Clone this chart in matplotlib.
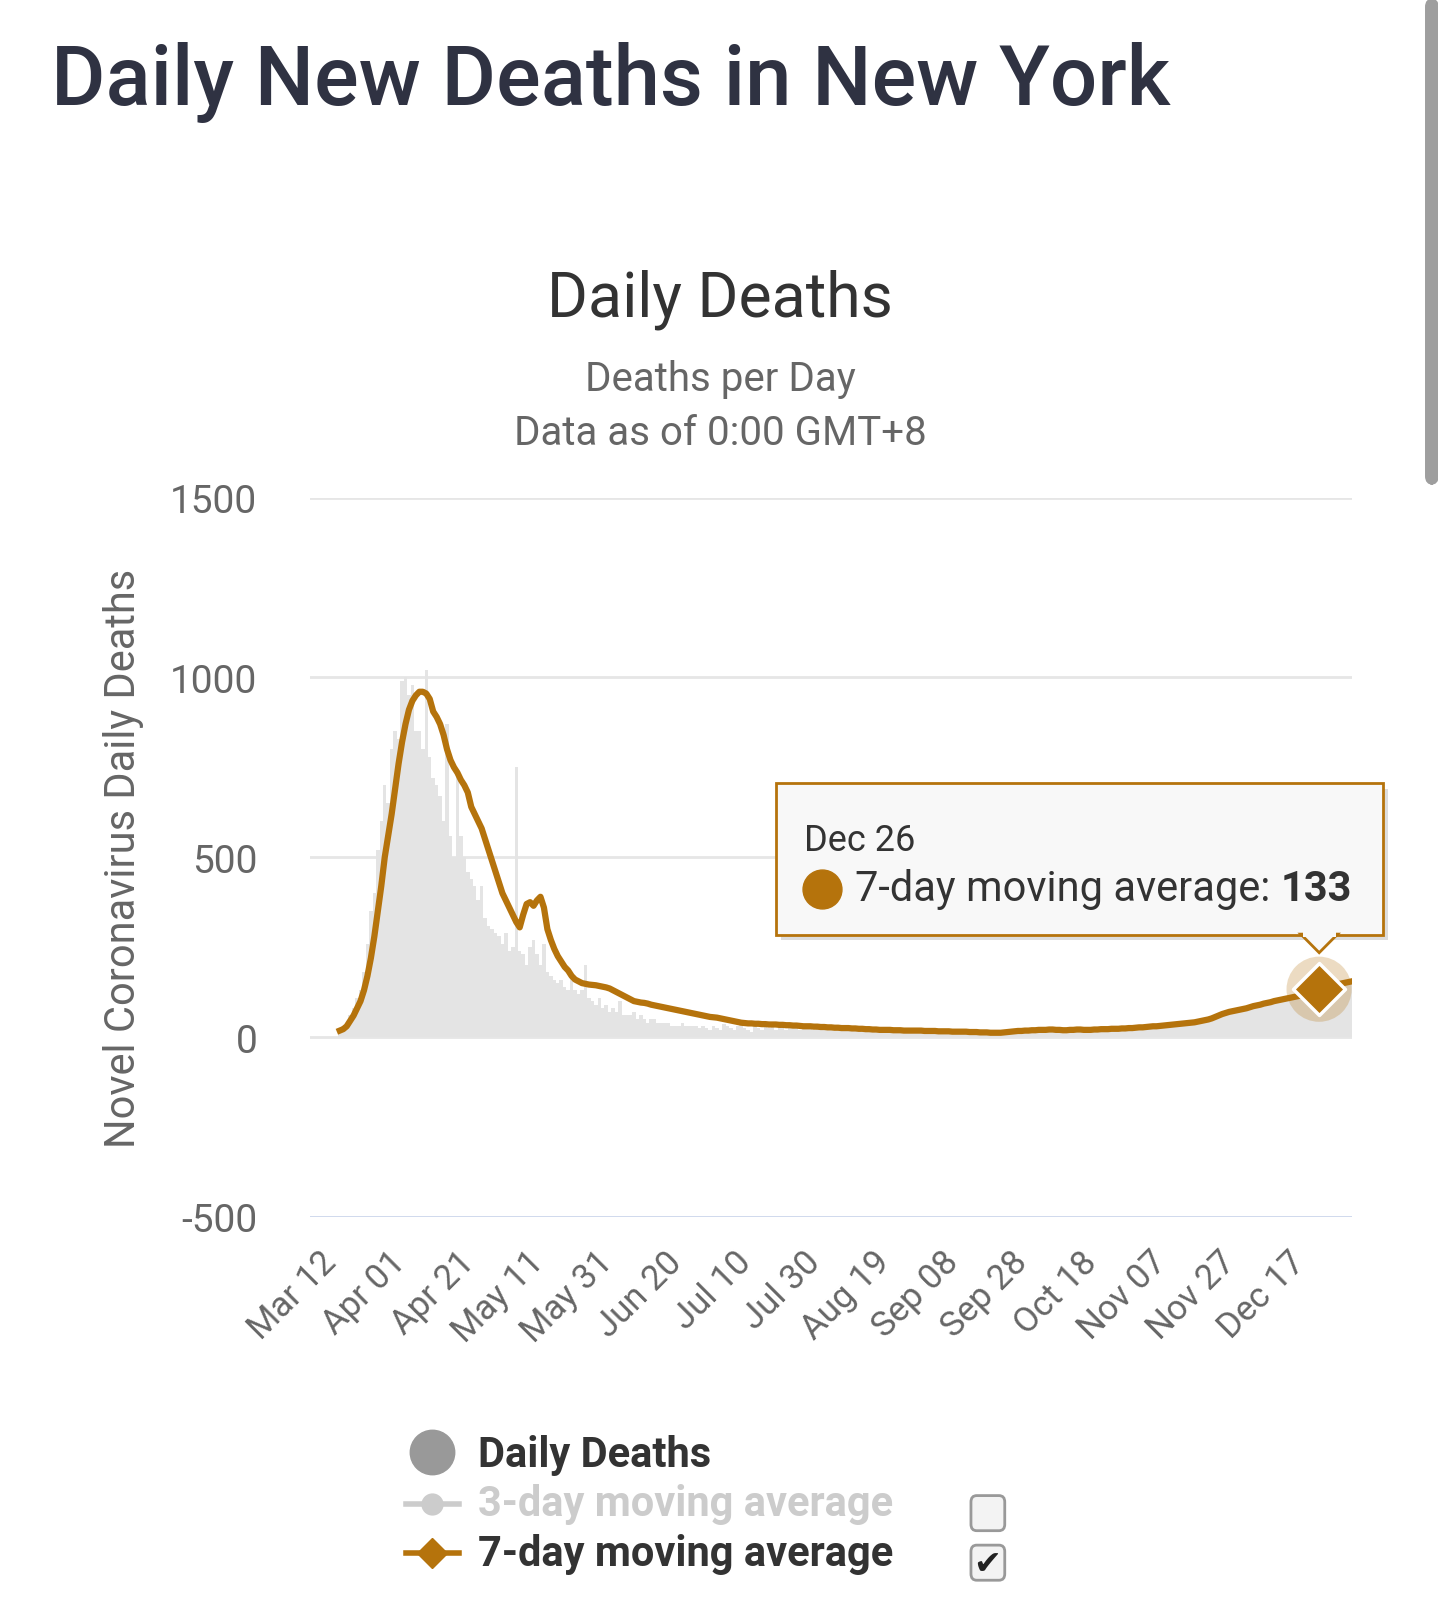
import matplotlib
matplotlib.use("Agg")
import matplotlib.pyplot as plt
import numpy as np
import datetime as dt
from matplotlib.patches import FancyBboxPatch, Rectangle, Polygon
from matplotlib.lines import Line2D

plt.rcParams['font.family'] = ['Roboto', 'DejaVu Sans']

start = dt.date(2020, 3, 10)
avg7 = [0,0,0,0,0,0,0,0,18,22,30,45,60,80,100,130,170,220,280,350,420,500,
 560,620,690,760,820,870,910,935,950,960,960,955,940,905,890,870,840,800,770,750,735,715,700,680,640,620,600,580,550,520,
 490,460,430,400,380,360,340,320,305,340,370,375,365,380,390,360,300,270,245,225,210,195,185,170,160,155,150,148,146,145,144,
 142,140,138,135,130,125,120,115,110,105,100,98,96,95,93,90,88,86,84,82,80,78,76,74,72,70,68,66,64,62,
 60,58,56,55,54,52,50,48,46,44,42,40,39,38,38,37,37,36,36,35,35,35,34,34,33,33,32,32,31,30,30,
 30,29,29,28,28,27,27,26,26,25,25,25,24,24,23,23,22,22,21,21,20,20,20,20,19,19,19,18,18,18,18,
 18,18,17,17,17,17,16,16,16,16,15,15,15,15,15,14,14,14,13,13,13,12,12,12,12,13,14,15,16,17,
 17,18,18,19,19,20,20,20,21,21,20,20,19,19,20,20,21,21,20,20,20,21,21,22,22,22,23,23,23,24,24,
 25,25,26,27,27,28,29,30,30,31,32,33,34,35,36,37,38,39,40,41,43,45,47,49,52,56,60,64,67,70,
 72,74,76,78,80,83,86,88,90,93,95,97,100,102,104,106,108,110,112,114,116,118,121,125,129,133,136,139,142,144,146,
 148,150,152,154]
daily = [0,0,0,0,0,0,0,0,20,30,40,60,80,110,130,180,260,350,400,520,600,700,
 650,800,850,830,990,1000,950,980,850,850,800,1020,780,720,700,670,600,870,560,500,740,560,500,460,440,420,380,420,330,310,
 300,290,280,260,290,240,250,750,240,230,200,250,270,230,200,260,180,170,160,150,160,140,130,170,130,120,130,200,110,100,90,
 110,80,90,70,80,70,100,60,60,60,70,50,60,50,40,50,50,40,40,40,40,30,30,30,40,30,30,30,30,25,
 30,25,20,30,25,20,35,30,25,20,30,35,25,20,15,30,25,20,30,25,35,20,30,25,20,35,30,25,20,30,25,
 25,20,30,25,20,25,30,20,25,20,25,30,20,25,20,15,25,20,25,20,15,20,25,20,15,20,25,15,20,15,20,
 15,20,15,20,15,10,20,15,20,15,10,15,20,15,10,15,20,10,15,10,15,10,15,10,15,20,15,20,15,20,
 15,20,25,15,20,25,20,15,25,20,15,25,20,15,25,20,15,25,20,20,25,20,15,25,30,20,25,20,25,30,20,
 25,30,20,30,25,30,35,25,30,35,30,35,40,30,35,40,45,35,40,45,40,50,45,55,50,60,55,65,60,75,
 70,80,75,80,85,80,90,85,95,90,100,95,105,100,110,100,115,110,120,115,125,115,130,125,140,130,140,135,150,140,155,
 145,150,155,160]
n = len(avg7)
dates = [start + dt.timedelta(days=i) for i in range(n)]
labels = [d.strftime("%b %d") for d in dates]
tick_idx = list(range(2, n, 20))
yticks = [-500, 0, 500, 1000, 1500]
line_start = 8
hl = labels.index("Dec 26")

W, H = 1404, 1556
fig = plt.figure(figsize=(14.38, 16.06), dpi=100)
def fx(x): return x / W
def fy(y): return 1 - y / H

ax = fig.add_axes([fx(303), fy(1180), fx(1320) - fx(303), fy(483) - fy(1180)])
x = np.arange(n)
ax.bar(x, daily, width=1.0, color='#e4e4e4', zorder=1)
ax.plot(x[line_start:], avg7[line_start:], color='#b5730c', lw=4.5, zorder=3, solid_joinstyle='round')
ax.set_xlim(-0.5, n - 0.5)
ax.set_ylim(-500, 1500)
ax.set_yticks(yticks)
ax.set_yticklabels([str(v) if v >= 0 else "-" + str(-v) for v in yticks])
for v in yticks:
    ax.axhline(v, color='#ccd6eb' if v == -500 else '#e6e6e6', lw=2, zorder=0)
ax.set_xticks(tick_idx)
ax.set_xticklabels([labels[i] for i in tick_idx], rotation=45, ha='right', rotation_mode='anchor', fontsize=25, color='#666666')
ax.tick_params(axis='y', labelsize=28, colors='#666666', length=0, pad=38)
ax.tick_params(axis='x', length=0, pad=20)
for s in ax.spines.values():
    s.set_visible(False)
ax.set_ylabel("Novel Coronavirus Daily Deaths", fontsize=30, color='#666666')
ax.yaxis.set_label_coords(-0.16, 0.5)
ax.scatter([hl], [avg7[hl]], s=2200, color='#b5730c', alpha=0.25, zorder=4, edgecolors='none')
ax.scatter([hl], [avg7[hl]], s=700, marker='D', color='#b5730c', edgecolors='white', linewidths=2.5, zorder=5)

fig.text(fx(50), fy(80), "Daily New Deaths in New York", fontsize=60, fontweight='medium', color='#2f3242', va='center')
fig.text(fx(703), fy(290), "Daily Deaths", fontsize=45, color='#333333', ha='center', va='center')
fig.text(fx(703), fy(368), "Deaths per Day", fontsize=29, color='#666666', ha='center', va='center')
fig.text(fx(703), fy(420), "Data as of 0:00 GMT+8", fontsize=29, color='#666666', ha='center', va='center')

# scrollbar
fig.patches.append(FancyBboxPatch((fx(1392), fy(470)), fx(12), fy(0) - fy(470), boxstyle="round,pad=0,rounding_size=0.005",
                                  transform=fig.transFigure, color='#9e9e9e', zorder=1))

# tooltip
fig.patches.append(Rectangle((fx(763), fy(912)), fx(1355) - fx(763), fy(765) - fy(912), transform=fig.transFigure,
                             facecolor='#dddddd', edgecolor='none', zorder=5))
fig.patches.append(Rectangle((fx(758), fy(907)), fx(1350) - fx(758), fy(760) - fy(907), transform=fig.transFigure,
                             facecolor='#f8f8f8', edgecolor='#b5730c', lw=2, zorder=6))
fig.patches.append(Polygon([(fx(1270), fy(906)), (fx(1306), fy(906)), (fx(1288), fy(924))], closed=True, transform=fig.transFigure,
                           facecolor='#f8f8f8', edgecolor='#b5730c', lw=2, zorder=6))
fig.patches.append(Rectangle((fx(1272), fy(909)), fx(32), fy(903) - fy(909), transform=fig.transFigure,
                             facecolor='#f8f8f8', edgecolor='none', zorder=7))
fig.text(fx(785), fy(815), "Dec 26", fontsize=26, color='#333333', va='center', zorder=8)
fig.add_artist(Line2D([fx(803)], [fy(862)], marker='o', markersize=28, color='#b5730c', transform=fig.transFigure, zorder=8))
fig.text(fx(835), fy(862), "7-day moving average:", fontsize=30, color='#333333', va='center', zorder=8)
fig.text(fx(1320), fy(862), f"{avg7[hl]}", fontsize=30, fontweight='bold', color='#333333', va='center', ha='right', zorder=8)

# legend
fig.add_artist(Line2D([fx(422)], [fy(1408)], marker='o', markersize=32, color='#999999', transform=fig.transFigure))
fig.text(fx(467), fy(1410), "Daily Deaths", fontsize=30, fontweight='bold', color='#333333', va='center')
fig.add_artist(Line2D([fx(396), fx(448)], [fy(1458)] * 2, lw=4, color='#cccccc', transform=fig.transFigure))
fig.add_artist(Line2D([fx(422)], [fy(1458)], marker='o', markersize=15, color='#cccccc', transform=fig.transFigure))
fig.text(fx(467), fy(1458), "3-day moving average", fontsize=30, fontweight='bold', color='#cccccc', va='center')
fig.add_artist(Line2D([fx(396), fx(448)], [fy(1506)] * 2, lw=4, color='#b5730c', transform=fig.transFigure))
fig.add_artist(Line2D([fx(422)], [fy(1506)], marker='D', markersize=15, color='#b5730c', transform=fig.transFigure))
fig.text(fx(467), fy(1506), "7-day moving average", fontsize=30, fontweight='bold', color='#333333', va='center')
for yy in (1450, 1498):
    fig.patches.append(FancyBboxPatch((fx(948), fy(yy + 34)), fx(33), fy(yy) - fy(yy + 34), boxstyle="round,pad=0,rounding_size=0.004",
                                      transform=fig.transFigure, facecolor='#f3f3f3', edgecolor='#999999', lw=2))
fig.text(fx(964), fy(1516), "✔", fontsize=24, color='#222222', ha='center', va='center')

fig.savefig("out.png", dpi=100, facecolor='white')
